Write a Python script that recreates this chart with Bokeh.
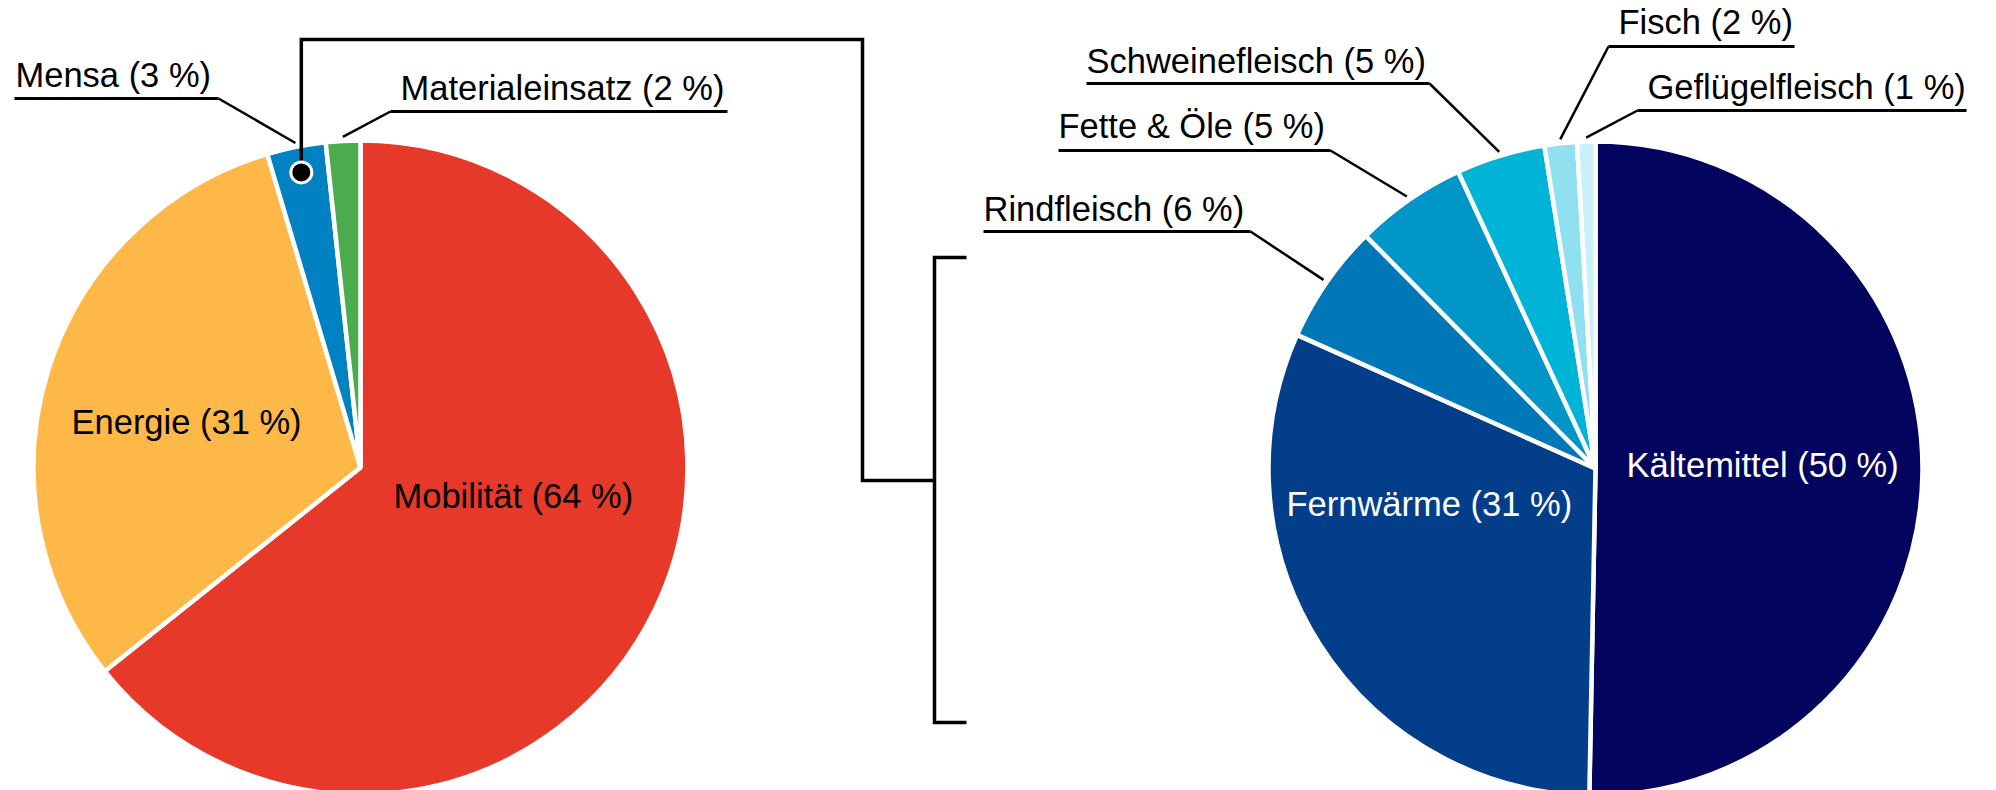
import math
from bokeh.plotting import figure
from bokeh.models import ColumnDataSource, Range1d
from bokeh.core.properties import value
from bokeh.embed import file_html
from bokeh.resources import INLINE

# ---------------- data ----------------
left_categories = ["Mobilität", "Energie", "Mensa", "Materialeinsatz"]
left_values = [64.3, 31.1, 2.9, 1.7]
left_label_pct = [64, 31, 3, 2]
left_colors = ["#E63929", "#FDB847", "#0081C2", "#4CAA4F"]

right_categories = ["Kältemittel", "Fernwärme", "Rindfleisch", "Fette & Öle",
                    "Schweinefleisch", "Fisch", "Geflügelfleisch"]
right_values = [50.3, 31.4, 5.9, 5.5, 4.4, 1.6, 0.9]
right_label_pct = [50, 31, 6, 5, 5, 2, 1]
right_colors = ["#03045E", "#023E8A", "#0077B6", "#0096C7", "#00B4D8", "#90E0EF", "#CAF0F8"]

# ---------------- layout ----------------
W, H = 1996, 790
FONT = "Liberation Sans"
FS = "34.5px"
TEXT_DY = 12

def X(xp):
    return xp

def Y(yp):
    return H - yp

p = figure(width=W, height=H, output_backend="svg", toolbar_location=None,
           x_range=Range1d(0, W), y_range=Range1d(0, H), min_border=0)
p.axis.visible = False
p.grid.visible = False
p.outline_line_color = None
p.background_fill_color = "white"
p.border_fill_color = "white"

R = 327


def pie(cx, cy, values, colors):
    total = float(sum(values))
    fr = []
    c = 0.0
    for v in values:
        fr.append((c / total, (c + v) / total))
        c += v
    src = ColumnDataSource(dict(
        start=[math.pi / 2 - 2 * math.pi * a for a, b in fr],
        end=[math.pi / 2 - 2 * math.pi * b for a, b in fr],
        color=colors,
    ))
    p.wedge(x=cx, y=cy, radius=R, start_angle="start", end_angle="end",
            direction="clock", fill_color="color", line_color="white",
            line_width=4.5, source=src)
    return [(a + b) / 2 for a, b in fr]


def at(cx, cy, f, r):
    a = math.pi / 2 - 2 * math.pi * f
    return cx + r * math.cos(a), cy + r * math.sin(a)


lcx, lcy = X(360), Y(467)
rcx, rcy = X(1595), Y(468)
lmid = pie(lcx, lcy, left_values, left_colors)
rmid = pie(rcx, rcy, right_values, right_colors)

left_labels = [f"{c} ({v} %)" for c, v in zip(left_categories, left_label_pct)]
right_labels = [f"{c} ({v} %)" for c, v in zip(right_categories, right_label_pct)]


def txt(x, y, s, color="black"):
    p.text(x=[X(x)], y=[Y(y - TEXT_DY)], text=[s], text_font=value(FONT), text_font_size=FS,
           text_color=color, text_baseline="alphabetic", text_align="left")


# inside labels
txt(71, 433, left_labels[1])
txt(393, 507, left_labels[0])
txt(1626, 476, right_labels[0], "white")
txt(1286, 515, right_labels[1], "white")

# outside labels with underline + leader
# (index, text_x, baseline, underline_x0, underline_x1, underline_y, elbow_x)
left_out = [
    (2, 15, 86, 14, 218, 98, 218),
    (3, 400, 99, 390, 727, 111, 390),
]
right_out = [
    (2, 983, 220, 983, 1250, 231, 1250),
    (3, 1058, 137, 1058, 1330, 150, 1330),
    (4, 1086, 72, 1086, 1429, 83, 1429),
    (5, 1618, 33, 1608, 1794, 46, 1608),
    (6, 1647, 98, 1637, 1966, 110, 1637),
]


def outside(specs, labels, mids, cx, cy):
    for i, tx, ty, u0, u1, uy, ex in specs:
        txt(tx, ty, labels[i])
        p.line(x=[X(u0), X(u1)], y=[Y(uy), Y(uy)], line_color="black", line_width=3)
        lx, ly = at(cx, cy, mids[i], R + 4)
        p.line(x=[X(ex), lx], y=[Y(uy), ly], line_color="black", line_width=2.5)


outside(left_out, left_labels, lmid, lcx, lcy)
outside(right_out, right_labels, rmid, rcx, rcy)

# connector from Mensa slice to the bracket
dx, dy = at(lcx, lcy, lmid[2], 301)
p.line(x=[dx, dx, X(862), X(862), X(934)],
       y=[dy, Y(39), Y(39), Y(480), Y(480)],
       line_color="black", line_width=3.5, line_join="miter")
p.line(x=[X(966), X(934), X(934), X(966)],
       y=[Y(257), Y(257), Y(722), Y(722)],
       line_color="black", line_width=3.5, line_join="miter")
p.scatter(x=[dx], y=[dy], size=21, marker="circle", fill_color="black",
          line_color="white", line_width=3)

open("out.html", "w").write(file_html(p, INLINE))
